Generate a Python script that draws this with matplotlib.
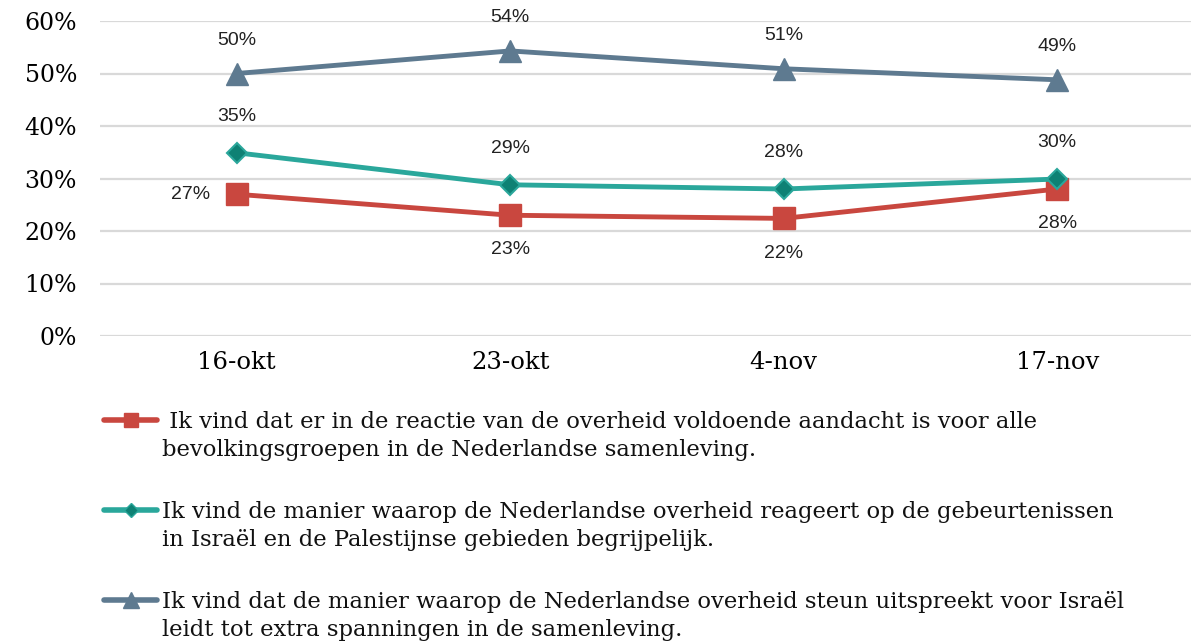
import matplotlib
matplotlib.use("Agg")
import matplotlib.pyplot as plt
from matplotlib.lines import Line2D

categories = ["16-okt", "23-okt", "4-nov", "17-nov"]
red_vals = [27, 23, 22.4, 28]
teal_vals = [34.9, 28.8, 28.0, 29.9]
blue_vals = [50, 54.3, 50.9, 48.8]
red_labels = ["27%", "23%", "22%", "28%"]
teal_labels = ["35%", "29%", "28%", "30%"]
blue_labels = ["50%", "54%", "51%", "49%"]
legend_labels = [
    " Ik vind dat er in de reactie van de overheid voldoende aandacht is voor alle\nbevolkingsgroepen in de Nederlandse samenleving.",
    "Ik vind de manier waarop de Nederlandse overheid reageert op de gebeurtenissen\nin Israël en de Palestijnse gebieden begrijpelijk.",
    "Ik vind dat de manier waarop de Nederlandse overheid steun uitspreekt voor Israël\nleidt tot extra spanningen in de samenleving.",
]
yticks = [0, 10, 20, 30, 40, 50, 60]

RED = "#C9473F"
TEAL = "#2AA79B"
TEAL_D = "#0E8174"
BLUE = "#5E7A90"
serif = "DejaVu Serif"
sans = "Liberation Sans"

W, H = 1191, 643
fig = plt.figure(figsize=(W / 100, H / 100), dpi=100)
ax = fig.add_axes([100 / W, 1 - 336 / H, 1094 / W, 315 / H])
x = list(range(len(categories)))

ax.plot(x, red_vals, color=RED, lw=3.5, marker="s", ms=16, mfc=RED, mec=RED, zorder=3)
ax.plot(x, teal_vals, color=TEAL, lw=3.5, marker="D", ms=10.5, mfc=TEAL_D, mec=TEAL, mew=1.5, zorder=3)
ax.plot(x, blue_vals, color=BLUE, lw=3.5, marker="^", ms=16.5, mfc=BLUE, mec=BLUE, zorder=3)

ax.set_xlim(-0.5, 3.5)
ax.set_ylim(0, 60)
ax.set_yticks(yticks)
ax.set_yticklabels([f"{v}%" for v in yticks], fontfamily=serif, fontsize=17)
ax.set_xticks(x)
ax.set_xticklabels(categories, fontfamily=serif, fontsize=17.5)
ax.tick_params(length=0)
ax.tick_params(axis="y", pad=16.5)
ax.tick_params(axis="x", pad=11)
for s in ax.spines.values():
    s.set_visible(False)
ax.grid(axis="y", color="#D9D9D9", lw=1.6)
ax.set_axisbelow(True)

lbl = dict(textcoords="offset points", fontfamily=sans, fontsize=14, color="#222222")
for i in range(4):
    ax.annotate(blue_labels[i], (x[i], blue_vals[i]), xytext=(0, 24), ha="center", va="center", **lbl)
    ax.annotate(teal_labels[i], (x[i], teal_vals[i]), xytext=(0, 26), ha="center", va="center", **lbl)
    if i == 0:
        ax.annotate(red_labels[i], (x[i], red_vals[i]), xytext=(-19, 0), ha="right", va="center", **lbl)
    else:
        ax.annotate(red_labels[i], (x[i], red_vals[i]), xytext=(0, -25), ha="center", va="center", **lbl)

# manual legend
styles = [
    dict(color=RED, marker="s", ms=10, mfc=RED, mec=RED),
    dict(color=TEAL, marker="D", ms=7, mfc=TEAL_D, mec=TEAL),
    dict(color=BLUE, marker="^", ms=11, mfc=BLUE, mec=BLUE),
]
ys = [420, 510, 600]
for st, yy, lab in zip(styles, ys, legend_labels):
    yf = 1 - yy / H
    fig.add_artist(Line2D([104 / W, 157 / W], [yf, yf], lw=4, solid_capstyle="round", color=st["color"]))
    fig.add_artist(Line2D([131 / W], [yf], marker=st["marker"], ms=st["ms"], mfc=st["mfc"], mec=st["mec"], lw=0))
    fig.text(162 / W, yf + 9 / H, lab, fontfamily=serif, fontsize=16.3, va="top", ha="left",
             linespacing=1.33, color="#111111")

fig.savefig("out.png", dpi=100)
